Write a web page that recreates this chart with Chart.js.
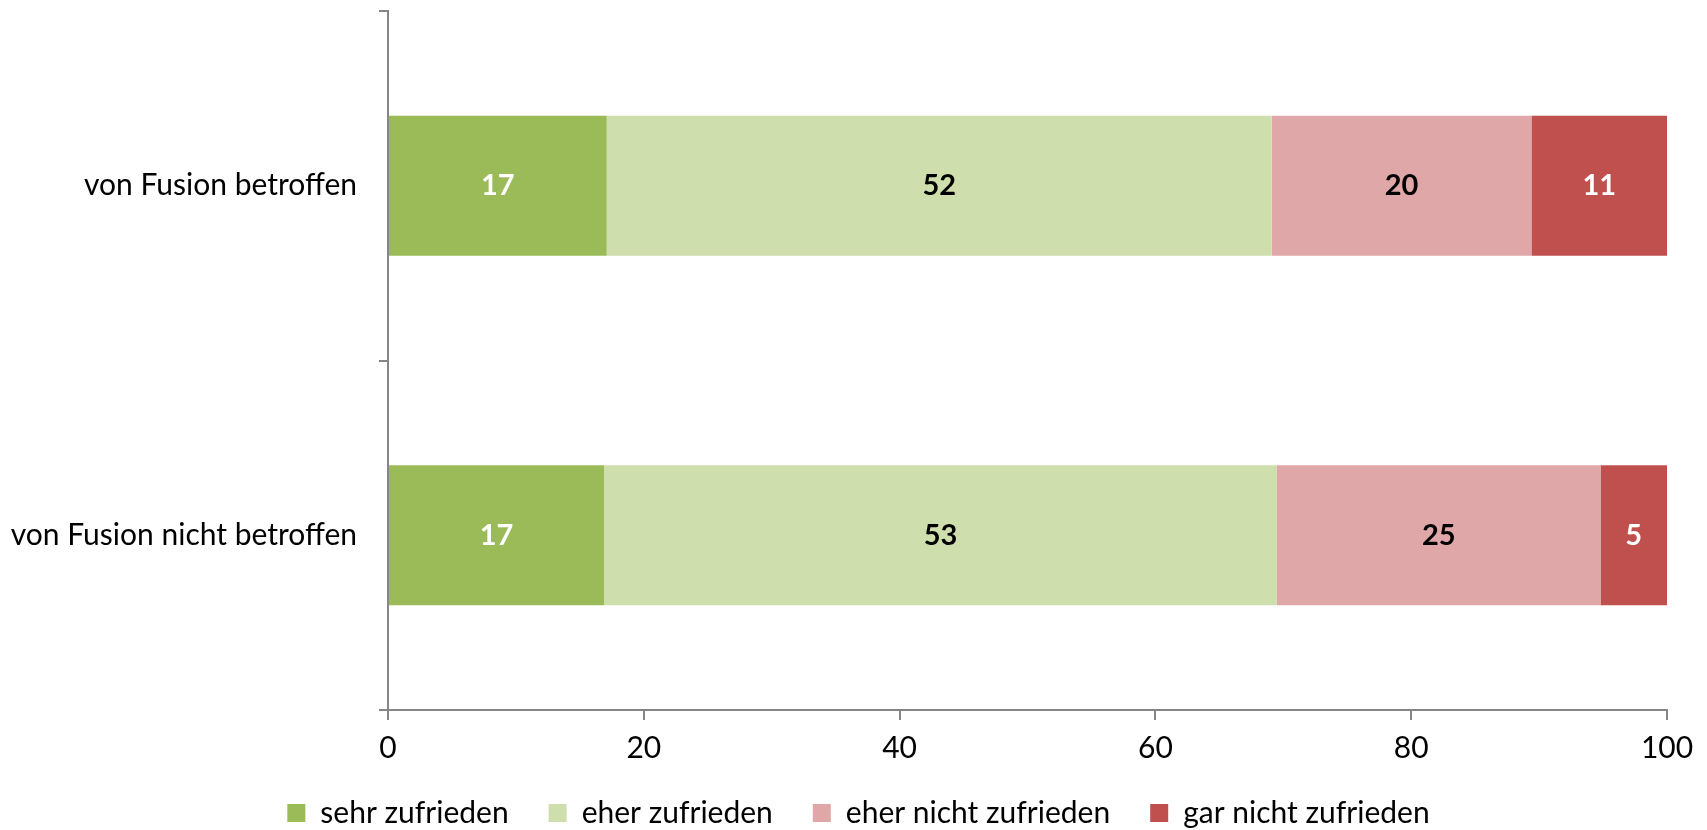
<!DOCTYPE html>
<html>
<head>
<meta charset="utf-8">
<script src="https://cdn.jsdelivr.net/npm/chart.js@4/dist/chart.umd.min.js"></script>
<style>
  html, body { margin: 0; padding: 0; background: #fff; }
  #wrap { width: 1707px; height: 830px; }
</style>
</head>
<body>
<div id="wrap"><canvas id="chart" width="1707" height="830"></canvas></div>
<script>
// categories and series values (percent)
const categories = ['von Fusion betroffen', 'von Fusion nicht betroffen'];
const seriesNames = ['sehr zufrieden', 'eher zufrieden', 'eher nicht zufrieden', 'gar nicht zufrieden'];
const sehrZufrieden = [17.1, 16.9];
const eherZufrieden = [52.0, 52.6];
const eherNichtZufrieden = [20.3, 25.3];
const garNichtZufrieden = [10.6, 5.2];
const xTicks = [0, 20, 40, 60, 80, 100];

const FONT = 'Lato';
const axisColor = '#868686';

// draws the rounded value in the middle of each segment
const segmentLabels = {
    id: 'segmentLabels',
    afterDatasetsDraw(chart) {
        const ctx = chart.ctx;
        ctx.save();
        ctx.font = 'bold 29px ' + FONT;
        ctx.textAlign = 'center';
        ctx.textBaseline = 'middle';
        chart.data.datasets.forEach((ds, i) => {
            const meta = chart.getDatasetMeta(i);
            meta.data.forEach((bar, j) => {
                ctx.fillStyle = ds.labelColor;
                ctx.fillText(Math.round(ds.data[j]), (bar.x + bar.base) / 2, bar.y);
            });
        });
        ctx.restore();
    }
};

const ctx = document.getElementById('chart').getContext('2d');
new Chart(ctx, {
    type: 'bar',
    data: {
        labels: categories,
        datasets: [
            { label: seriesNames[0], data: sehrZufrieden, backgroundColor: '#9BBB59', labelColor: '#ffffff' },
            { label: seriesNames[1], data: eherZufrieden, backgroundColor: '#CFDEAD', labelColor: '#000000' },
            { label: seriesNames[2], data: eherNichtZufrieden, backgroundColor: '#DFA7A7', labelColor: '#000000' },
            { label: seriesNames[3], data: garNichtZufrieden, backgroundColor: '#C0504D', labelColor: '#ffffff' }
        ]
    },
    options: {
        indexAxis: 'y',
        responsive: false,
        animation: false,
        categoryPercentage: 0.4,
        barPercentage: 1.0,
        layout: { padding: { top: 11, left: 10, right: 0, bottom: -8 } },
        plugins: {
            tooltip: { enabled: false },
            legend: {
                position: 'bottom',
                labels: {
                    color: '#000',
                    font: { family: FONT, size: 30 },
                    boxWidth: 18,
                    boxHeight: 18,
                    padding: 40
                }
            }
        },
        scales: {
            x: {
                stacked: true,
                min: 0,
                max: 100,
                afterBuildTicks: scale => { scale.ticks = xTicks.map(v => ({ value: v })); },
                afterFit: scale => { scale.height = 48; scale.paddingRight = 40; },
                grid: { drawOnChartArea: false, drawTicks: true, tickLength: 10, color: axisColor, lineWidth: 2 },
                border: { color: axisColor, width: 2 },
                ticks: { color: '#000', font: { family: FONT, size: 30 }, padding: 10, maxRotation: 0 }
            },
            y: {
                stacked: true,
                afterFit: scale => { scale.width = 378; scale.paddingTop = 0; scale.paddingBottom = 0; },
                grid: { drawOnChartArea: false, drawTicks: true, tickLength: 9, color: axisColor, lineWidth: 2, offset: true },
                border: { color: axisColor, width: 2 },
                ticks: { color: '#000', font: { family: FONT, size: 30 }, padding: 22 }
            }
        }
    },
    plugins: [segmentLabels]
});
</script>
</body>
</html>
